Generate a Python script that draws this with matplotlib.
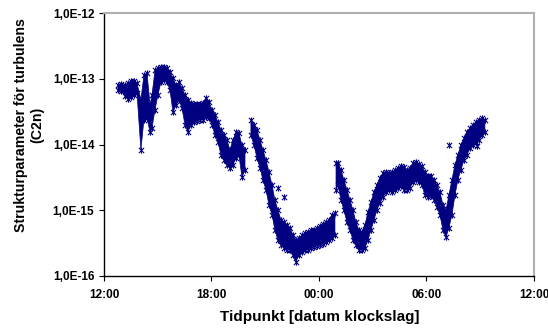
import numpy as np
import matplotlib
matplotlib.use("Agg")
from matplotlib import pyplot as plt
from matplotlib.path import Path
from matplotlib.ticker import FixedLocator, FixedFormatter, NullLocator

nan = float("nan")

# tidpunkt i timmar från midnatt dag 1 (24+ = nästa dygn)
tid = [12.78, 12.95, 13.17, 13.34, 13.51, 13.67, 13.84, 14.06, 14.23, 14.40,
       14.57, 14.68, 14.85, 15.01, 15.18, 15.35, 15.52, 15.68, 15.85, 16.02,
       16.19, 16.35, 16.52, 16.69, 16.85, 17.02, 17.19, 17.36, 17.52, 17.69,
       17.86, 18.03, 18.19, 18.36, 18.53, 18.70, 18.86, 19.03, 19.20, 19.37,
       19.53, 19.70, 19.87, 20.03, 20.20, 20.37, 20.54, 20.71, 20.87, 21.04,
       21.21, 21.38, 21.54, 21.71, 21.88, 22.04, 22.21, 22.38, 22.55, 22.71,
       22.88, 23.05, 23.22, 23.38, 23.55, 23.72, 23.89, 24.05, 24.22, 24.39,
       24.56, 24.72, 24.89, 24.92, 24.95, 25.06, 25.23, 25.39, 25.56, 25.73, 25.90,
       26.06, 26.23, 26.40, 26.57, 26.73, 26.90, 27.07, 27.23, 27.40, 27.57,
       27.74, 27.90, 28.07, 28.24, 28.41, 28.57, 28.74, 28.91, 29.08, 29.24,
       29.41, 29.58, 29.75, 29.91, 30.08, 30.25, 30.42, 30.58, 30.75, 30.92,
       31.09, 31.25, 31.42, 31.59, 31.75, 31.92, 32.09, 32.26, 32.42, 32.59,
       32.76, 32.93, 33.09, 33.26]

# övre kant av punktmolnet
c2n_top = [8.0e-14, 8.3e-14, 8.0e-14, 8.6e-14, 9.2e-14, 9.2e-14, 8.6e-14, 4.8e-14, 1.14e-13, 1.22e-13,
           4.0e-14, 5.7e-14, 1.36e-13, 1.46e-13, 1.51e-13, 1.51e-13, 1.46e-13, 1.27e-13, 1.03e-13, 8.0e-14,
           8.9e-14, 7.2e-14, 5.7e-14, 4.8e-14, 4.3e-14, 4.1e-14, 4.1e-14, 4.1e-14, 4.3e-14, 5.1e-14,
           4.4e-14, 3.4e-14, 2.8e-14, 2.2e-14, 1.66e-14, 1.4e-14, 1.17e-14, 8.3e-15, 1.17e-14, 1.55e-14,
           1.5e-14, 9.8e-15, 8.3e-15, nan, 2.4e-14, 2.0e-14, 1.66e-14, 1.17e-14, 8.3e-15, 5.8e-15,
           3.8e-15, 2.4e-15, 1.43e-15, 1.0e-15, 7.1e-16, 6.6e-16, 6.0e-16, 5.4e-16, 4.2e-16, 3.5e-16,
           3.8e-16, 4.2e-16, 4.5e-16, 4.7e-16, 5.0e-16, 5.0e-16, 5.4e-16, 5.8e-16, 6.2e-16, 6.6e-16,
           7.1e-16, 8.5e-16, 9.1e-16, nan, 5.2e-15, 5.2e-15, 4.1e-15, 2.9e-15, 2.05e-15, 1.43e-15, 1.0e-15,
           6.6e-16, 5.0e-16, 4.7e-16, 6.0e-16, 9.4e-16, 1.33e-15, 1.9e-15, 2.4e-15, 3.1e-15, 3.7e-15,
           3.8e-15, 3.7e-15, 3.8e-15, 4.1e-15, 4.4e-15, 4.7e-15, 4.55e-15, 4.1e-15, 4.4e-15, 5.2e-15,
           5.4e-15, 5.05e-15, 4.7e-15, 3.8e-15, 3.3e-15, 3.3e-15, 2.9e-15, 2.4e-15, 1.9e-15, 1.2e-15,
           1.0e-15, 1.7e-15, 2.9e-15, 4.9e-15, 6.9e-15, 9.8e-15, 1.25e-14, 1.55e-14, 1.8e-14, 2.0e-14,
           2.2e-14, 2.4e-14, 2.5e-14, 2.4e-14]

# undre kant av punktmolnet
c2n_bottom = [6.7e-14, 6.5e-14, 5.5e-14, 4.9e-14, 5.3e-14, 5.7e-14, 6.1e-14, 8.3e-15, 2.4e-14, 2.5e-14,
              1.55e-14, 1.8e-14, 3.4e-14, 5.7e-14, 8.9e-14, 9.6e-14, 8.9e-14, 6.8e-14, 3.1e-14, 4.0e-14,
              4.8e-14, 3.6e-14, 2.0e-14, 1.55e-14, 2.0e-14, 2.2e-14, 2.3e-14, 2.4e-14, 2.4e-14, 2.6e-14,
              2.5e-14, 2.0e-14, 1.4e-14, 1.1e-14, 6.9e-15, 5.8e-15, 4.9e-15, 4.4e-15, 4.9e-15, 6.2e-15,
              6.9e-15, 3.2e-15, 4.1e-15, nan, 1.4e-14, 9.8e-15, 6.2e-15, 4.4e-15, 2.9e-15, 2.05e-15,
              1.2e-15, 8.5e-16, 5.0e-16, 3.5e-16, 3.0e-16, 2.7e-16, 2.5e-16, 2.5e-16, 2.1e-16, 1.63e-16,
              2.1e-16, 2.3e-16, 2.5e-16, 2.5e-16, 2.7e-16, 2.8e-16, 2.9e-16, 3.0e-16, 3.1e-16, 3.3e-16,
              3.5e-16, 3.8e-16, 4.2e-16, nan, 2.05e-15, 2.4e-15, 1.43e-15, 1.0e-15, 6.6e-16, 5.0e-16, 3.5e-16,
              3.0e-16, 2.5e-16, 2.5e-16, 2.7e-16, 3.5e-16, 5.0e-16, 7.1e-16, 1.0e-15, 1.29e-15, 1.6e-15,
              1.9e-15, 2.05e-15, 1.9e-15, 2.05e-15, 2.2e-15, 2.3e-15, 2.05e-15, 2.05e-15, 2.2e-15, 2.7e-15,
              2.9e-15, 2.7e-15, 2.4e-15, 1.7e-15, 1.6e-15, 1.65e-15, 1.43e-15, 1.12e-15, 8.5e-16, 5.0e-16,
              3.9e-16, 5.4e-16, 8.5e-16, 1.7e-15, 2.9e-15, 4.1e-15, 5.8e-15, 6.9e-15, 8.8e-15, 9.8e-15,
              1.09e-14, 1.17e-14, 1.4e-14, 1.55e-14]

# enstaka punkter utanför molnet
avvikare_tid = [21.71, 22.04, 31.25, 32.82]
avvikare_c2n = [2.2e-15, 1.6e-15, 1.0e-14, 9.5e-15]

x_ticks = [12, 18, 24, 30, 36]
x_labels = ["12:00", "18:00", "00:00", "06:00", "12:00"]
y_ticks = [1e-16, 1e-15, 1e-14, 1e-13, 1e-12]
y_labels = ["1,0E-16", "1,0E-15", "1,0E-14", "1,0E-13", "1,0E-12"]

plt.rcParams['font.family'] = ['Liberation Sans', 'DejaVu Sans']
plt.rcParams['font.weight'] = 'bold'

W, H = 548, 329
fig = plt.figure(figsize=(W / 100, H / 100), dpi=100)
ax = fig.add_axes([104 / W, 1 - 276 / H, 430 / W, 263 / H])

navy = '#000080'
star = Path([(-1, -1), (1, 1), (-1, 1), (1, -1), (0, -1.2), (0, 1.2)],
            [Path.MOVETO, Path.LINETO] * 3)

t = np.array(tid)
ax.fill_between(t, c2n_bottom, c2n_top, color=navy, lw=0.5)
for serie in (c2n_top, c2n_bottom):
    ax.plot(t, serie, ls='none', marker=star, ms=4.5, mec=navy, mfc='none', mew=0.8)
ax.plot(avvikare_tid, avvikare_c2n, ls='none', marker=star, ms=4.5, mec=navy, mfc='none', mew=0.8)

ax.set_yscale('log')
ax.set_ylim(1e-16, 1e-12)
ax.set_xlim(12, 36)
ax.yaxis.set_major_locator(FixedLocator(y_ticks))
ax.yaxis.set_major_formatter(FixedFormatter(y_labels))
ax.yaxis.set_minor_locator(NullLocator())
ax.set_xticks(x_ticks)
ax.set_xticklabels(x_labels)
ax.tick_params(direction='out', length=3.5, width=0.8, labelsize=8.5, colors='black')
ax.tick_params(axis='y', pad=3.5)
ax.tick_params(axis='x', pad=6)

for side in ('left', 'bottom'):
    ax.spines[side].set_color('black')
    ax.spines[side].set_linewidth(1)
for side in ('top', 'right'):
    ax.spines[side].set_color('#b0b0b0')
    ax.spines[side].set_linewidth(1.5)

fig.text(320 / W, 1 - 317 / H, "Tidpunkt [datum klockslag]", ha='center', va='center',
         fontsize=11, fontweight='bold')
fig.text(29 / W, 1 - 125 / H, "Strukturparameter för turbulens\n(C2n)", ha='center', va='center',
         rotation=90, multialignment='center', fontsize=10.2, fontweight='bold', linespacing=1.15)

fig.savefig("out.png", dpi=100)
